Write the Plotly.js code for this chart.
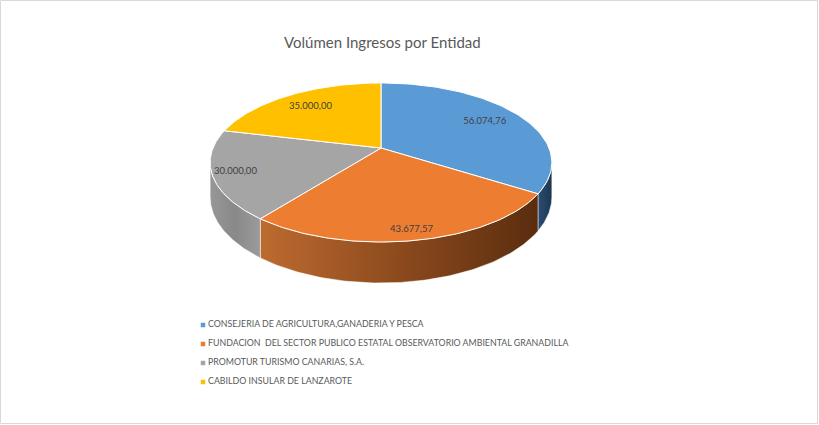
<!DOCTYPE html>
<html>
<head>
<meta charset="utf-8">
<script src="https://cdn.plot.ly/plotly-3.0.1.min.js"></script>
<style>
	html, body { margin: 0; padding: 0; background: #fff; }
	#chart { width: 819px; height: 425px; }
</style>
</head>
<body>
<div id="chart"></div>
<script>
const chartTitle = "Volúmen Ingresos por Entidad";

const categories = [
	"CONSEJERIA DE AGRICULTURA,GANADERIA Y PESCA",
	"FUNDACION  DEL SECTOR PUBLICO ESTATAL OBSERVATORIO AMBIENTAL GRANADILLA",
	"PROMOTUR TURISMO CANARIAS, S.A.",
	"CABILDO INSULAR DE LANZAROTE",
];
const values = [56074.76, 43677.57, 30000.0, 35000.0];

const topColors = ["#5B9BD5", "#ED7D31", "#A5A5A5", "#FFC000"];
const wallScales = [
	[[0, "#2a4d72"], [1, "#1d3653"]],
	[[0, "#bd6b30"], [0.5, "#8c4a1d"], [1, "#5a2d0f"]],
	[[0, "#979797"], [0.5, "#898989"], [1, "#9b9b9b"]],
	[[0, "#b88a00"], [1, "#8a6700"]],
];
// how far out (fraction of radius) each data label sits
const labelReach = [0.75, 0.9, 0.87, 0.75];

// fake 3d pie: a tilted disc with a little perspective
const CX = 381, CY = 148;
const A = 168, B = 76.9, K = 0.182, T = 33.5;
const STEPS = 90;

function proj(theta, f) {
	const u = f * Math.sin(theta);
	const v = -f * Math.cos(theta);
	const w = 1 - K * v;
	return { x: CX + (A * u) / w, y: CY + (B * v) / w, w };
}

function fmtEs(x) {
	const [i, d] = x.toFixed(2).split(".");
	return i.replace(/\B(?=(\d{3})+(?!\d))/g, ".") + "," + d;
}

const total = values.reduce((a, b) => a + b, 0);
const slices = [];
let acc = 0;
values.forEach(v => {
	const a0 = (acc / total) * 2 * Math.PI;
	acc += v;
	const a1 = (acc / total) * 2 * Math.PI;
	slices.push({ a0, a1 });
});

// the front part of the side wall that the camera sees
const wallFrom = Math.acos(-K);
const wallTo = 2 * Math.PI - wallFrom;

const data = [];

slices.forEach((s, i) => {
	const a0 = Math.max(s.a0, wallFrom);
	const a1 = Math.min(s.a1, wallTo);
	if (a1 <= a0) return;
	const top = [];
	for (let j = 0; j <= STEPS; ++j) {
		top.push(proj(a0 + ((a1 - a0) * j) / STEPS, 1));
	}
	const bottom = top.map(p => ({ x: p.x, y: p.y + T / p.w })).reverse();
	const pts = top.concat(bottom);
	pts.push(top[0]);
	data.push({
		type: "scatter",
		mode: "lines",
		x: pts.map(p => p.x),
		y: pts.map(p => p.y),
		fill: "toself",
		fillgradient: { type: "horizontal", colorscale: wallScales[i] },
		line: { color: "rgba(255,255,255,0.6)", width: 0.8 },
		hoverinfo: "skip",
	});
});

slices.forEach((s, i) => {
	const pts = [{ x: CX, y: CY }];
	for (let j = 0; j <= STEPS; ++j) {
		pts.push(proj(s.a0 + ((s.a1 - s.a0) * j) / STEPS, 1));
	}
	pts.push({ x: CX, y: CY });
	data.push({
		type: "scatter",
		mode: "lines",
		x: pts.map(p => p.x),
		y: pts.map(p => p.y),
		fill: "toself",
		fillcolor: topColors[i],
		line: { color: "#ffffff", width: 1 },
		hoverinfo: "skip",
	});
});

const labelPts = slices.map((s, i) => proj((s.a0 + s.a1) / 2, labelReach[i]));
data.push({
	type: "scatter",
	mode: "text",
	x: labelPts.map(p => p.x),
	y: labelPts.map(p => p.y),
	text: values.map(fmtEs),
	textposition: "middle center",
	textfont: { family: "Lato, sans-serif", size: 9.5, color: "#404040" },
	hoverinfo: "skip",
});

// legend, drawn by hand so the swatch sits tight to its text
const LEG_X = 203, LEG_Y = 325, LEG_DY = 19;
const legY = categories.map((c, i) => LEG_Y + i * LEG_DY);
data.push({
	type: "scatter",
	mode: "markers",
	x: categories.map(() => LEG_X),
	y: legY,
	marker: { symbol: "square", size: 4.5, color: topColors },
	hoverinfo: "skip",
});
data.push({
	type: "scatter",
	mode: "text",
	x: categories.map(() => LEG_X + 5),
	y: legY,
	text: categories,
	textposition: "middle right",
	textfont: { family: "Lato, sans-serif", size: 8.8, color: "#595959" },
	hoverinfo: "skip",
});

const hidden = { visible: false, fixedrange: true, showgrid: false, zeroline: false };
const layout = {
	width: 819,
	height: 425,
	margin: { t: 0, b: 0, l: 0, r: 0 },
	paper_bgcolor: "#ffffff",
	plot_bgcolor: "#ffffff",
	showlegend: false,
	hovermode: false,
	xaxis: { ...hidden, range: [0, 819] },
	yaxis: { ...hidden, range: [425, 0] },
	annotations: [
		{
			text: chartTitle,
			x: CX + 1,
			y: 42,
			xref: "x",
			yref: "y",
			showarrow: false,
			font: { family: "Lato, sans-serif", size: 15, color: "#595959" },
		},
	],
	shapes: [
		{
			type: "rect",
			xref: "x",
			yref: "y",
			x0: 0.5,
			x1: 817.5,
			y0: 0.5,
			y1: 423.5,
			line: { color: "#d9d9d9", width: 1 },
		},
	],
};

Plotly.newPlot("chart", data, layout, { displayModeBar: false, staticPlot: true });
</script>
</body>
</html>
